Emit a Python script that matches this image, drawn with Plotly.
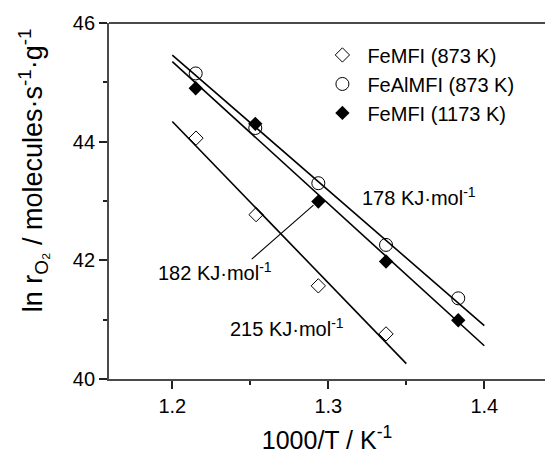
import plotly.graph_objects as go

# ---- data ----
x_femfi_873 = [1.2152, 1.2537, 1.2936, 1.3370]
y_femfi_873 = [44.06, 42.77, 41.57, 40.76]

x_fealmfi_873 = [1.2150, 1.2532, 1.2936, 1.3370, 1.3833]
y_fealmfi_873 = [45.15, 44.23, 43.30, 42.26, 41.36]

x_femfi_1173 = [1.2150, 1.2532, 1.2936, 1.3370, 1.3833]
y_femfi_1173 = [44.90, 44.30, 42.99, 41.98, 40.99]

# fitted lines (end points)
fit_178_x = [1.20, 1.40]
fit_178_y = [45.46, 40.90]
fit_182_x = [1.20, 1.40]
fit_182_y = [45.35, 40.56]
fit_215_x = [1.20, 1.35]
fit_215_y = [44.34, 40.26]

# leader line for the 182 label
lead_x = [1.2509, 1.2905]
lead_y = [42.02, 42.93]

labels = ["178 KJ·mol<sup>-1</sup>", "182 KJ·mol<sup>-1</sup>", "215 KJ·mol<sup>-1</sup>"]
label_x = [1.3203, 1.1896, 1.2358]
label_y = [43.08, 41.82, 40.86]

FONT = "Arial, Liberation Sans, sans-serif"
AX = "#4a4a4a"

fig = go.Figure()

for fx, fy in [(fit_178_x, fit_178_y), (fit_182_x, fit_182_y), (fit_215_x, fit_215_y)]:
    fig.add_trace(go.Scatter(x=fx, y=fy, mode="lines", line=dict(color="black", width=1.6),
                             showlegend=False, hoverinfo="skip"))
fig.add_trace(go.Scatter(x=lead_x, y=lead_y, mode="lines", line=dict(color="black", width=1.1),
                         showlegend=False, hoverinfo="skip"))

fig.add_trace(go.Scatter(x=x_femfi_873, y=y_femfi_873, mode="markers", name="FeMFI (873 K)",
                         marker=dict(symbol="diamond-open", size=11, color="black", line=dict(width=1))))
fig.add_trace(go.Scatter(x=x_fealmfi_873, y=y_fealmfi_873, mode="markers", name="FeAlMFI (873 K)",
                         marker=dict(symbol="circle-open", size=13, color="black", line=dict(width=1))))
fig.add_trace(go.Scatter(x=x_femfi_1173, y=y_femfi_1173, mode="markers", name="FeMFI (1173 K)",
                         marker=dict(symbol="diamond", size=11, color="black")))

for t, lx, ly in zip(labels, label_x, label_y):
    fig.add_annotation(x=lx, y=ly, xref="x", yref="y", text=t, showarrow=False,
                       xanchor="left", yanchor="middle", font=dict(size=20, color="black", family=FONT))

# y-axis title
fig.add_annotation(x=-0.174, y=0.587, xref="paper", yref="paper",
                   text="ln r<sub>O₂</sub> / molecules·s<sup>-1</sup>·g<sup>-1</sup>",
                   textangle=-90, showarrow=False, xanchor="center", yanchor="middle",
                   font=dict(size=27, color="black", family=FONT))

# top frame line
fig.add_shape(type="line", xref="paper", yref="paper", x0=0, x1=1, y0=1, y1=1,
              line=dict(color=AX, width=1.8))

fig.update_layout(
    width=545, height=454,
    margin=dict(l=109, r=0, t=23, b=75),
    plot_bgcolor="white", paper_bgcolor="white",
    font=dict(family=FONT, color="black"),
    legend=dict(x=0.478, y=0.965, xanchor="left", yanchor="top",
                font=dict(size=20, color="black", family=FONT),
                bgcolor="rgba(0,0,0,0)", tracegroupgap=0, itemwidth=40),
    xaxis=dict(range=[1.15942, 1.43891], tickvals=[1.2, 1.3, 1.4], ticktext=["1.2", "1.3", "1.4"],
               showline=True, linecolor=AX, linewidth=1.8, mirror=False,
               ticks="outside", ticklen=8, tickwidth=1.5, tickcolor="#222",
               minor=dict(dtick=0.05, tick0=1.2, ticks="outside", ticklen=4, tickwidth=1.5, tickcolor="#222", showgrid=False),
               showgrid=False, zeroline=False,
               tickfont=dict(size=20, color="black", family=FONT),
               title=dict(text="1000/T / K<sup>-1</sup>", font=dict(size=25, color="black", family=FONT), standoff=17)),
    yaxis=dict(range=[40, 46], tickvals=[40, 42, 44, 46],
               showline=True, linecolor=AX, linewidth=1.8, mirror=False,
               ticks="outside", ticklen=8, tickwidth=1.5, tickcolor="#222",
               minor=dict(dtick=1, tick0=40, ticks="outside", ticklen=4, tickwidth=1.5, tickcolor="#222", showgrid=False),
               showgrid=False, zeroline=False,
               tickfont=dict(size=20, color="black", family=FONT)),
)

fig.write_html("out.html")
